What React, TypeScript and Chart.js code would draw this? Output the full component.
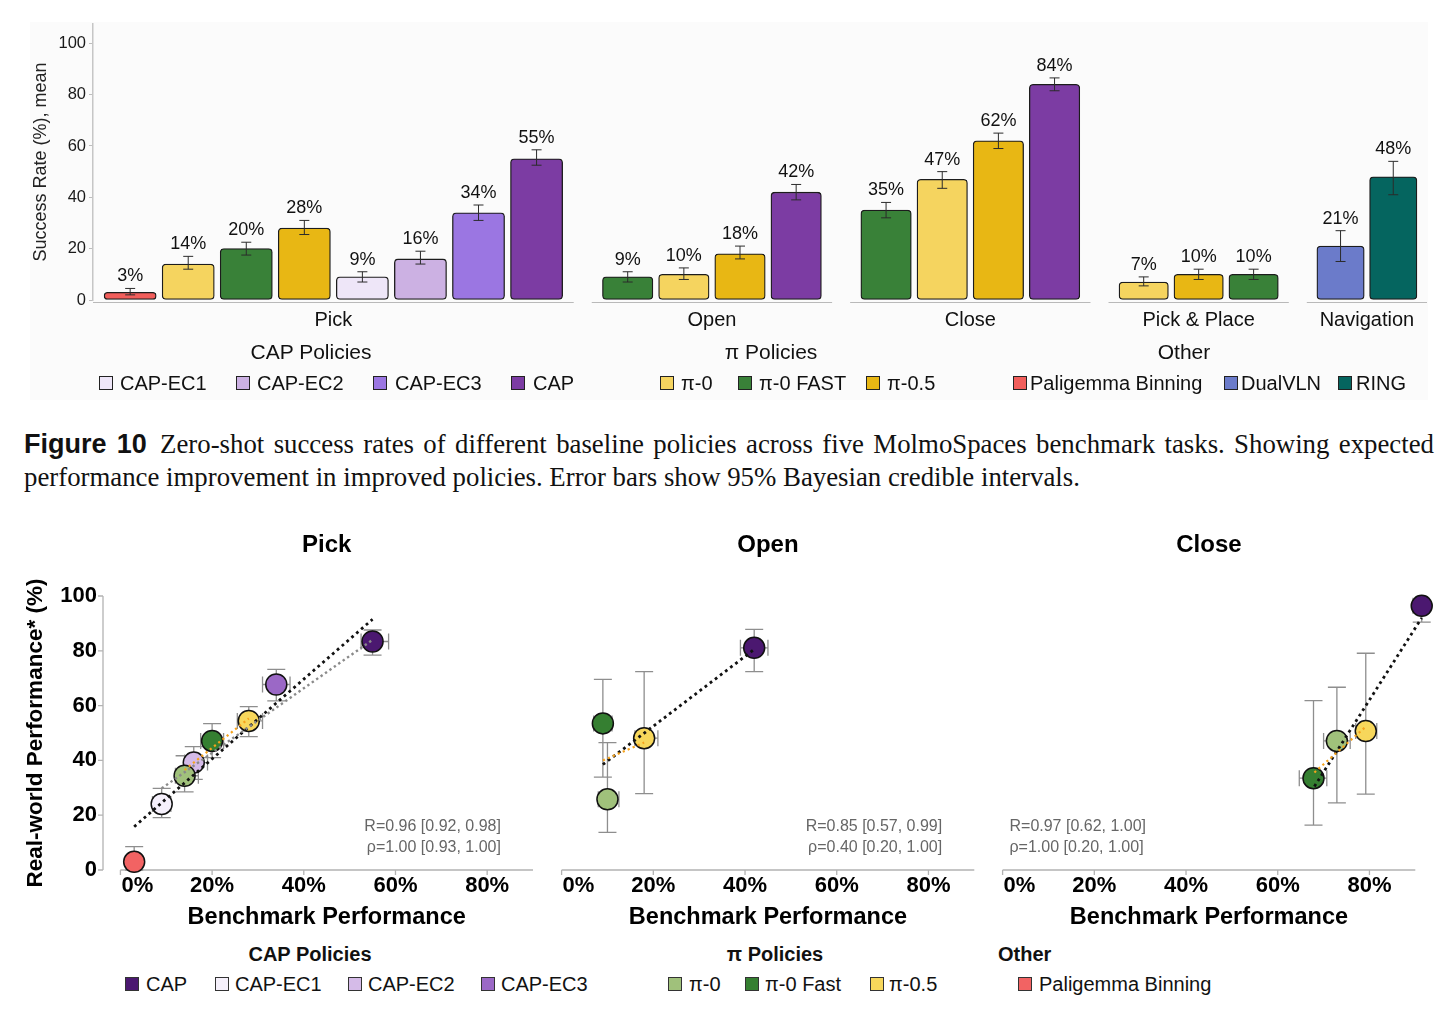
import React, { useEffect, useRef } from "react";
import { Chart, registerables } from "chart.js";

Chart.register(...registerables);

const SANS = "'Liberation Sans', Arial, Helvetica, sans-serif";
const SERIF = "'Liberation Serif', 'Times New Roman', serif";

// ---------- Benchmark success rates (top bar chart) ----------
const tasks = ["Pick", "Open", "Close", "Pick & Place", "Navigation"];

const pickPolicies = ["Paligemma Binning", "π-0", "π-0 FAST", "π-0.5", "CAP-EC1", "CAP-EC2", "CAP-EC3", "CAP"];
const pickRate = [3, 14, 20, 28, 9, 16, 34, 55];
const pickLow = [2, 12, 17.5, 25.5, 7, 14, 31, 52.5];
const pickHigh = [4.5, 17, 22.5, 31, 11, 19, 37, 58.5];

const openPolicies = ["π-0 FAST", "π-0", "π-0.5", "CAP"];
const openRate = [9, 10, 18, 42];
const openLow = [7, 8, 16, 39];
const openHigh = [11, 12.5, 21, 45];

const closePolicies = ["π-0 FAST", "π-0", "π-0.5", "CAP"];
const closeRate = [35, 47, 62, 84];
const closeLow = [32, 43.5, 59, 81.5];
const closeHigh = [38, 50, 65, 86.5];

const placePolicies = ["π-0", "π-0.5", "π-0 FAST"];
const placeRate = [7, 10, 10];
const placeLow = [5.5, 8, 8];
const placeHigh = [9, 12, 12];

const navPolicies = ["DualVLN", "RING"];
const navRate = [21, 48];
const navLow = [15, 41];
const navHigh = [27, 54];

const yTicksTop = [0, 20, 40, 60, 80, 100];

const barColor: Record<string, string> = {
  "Paligemma Binning": "#f15e5b",
  "π-0": "#f5d45f",
  "π-0 FAST": "#398138",
  "π-0.5": "#e8b714",
  "CAP-EC1": "#eee6f8",
  "CAP-EC2": "#ccb1e3",
  "CAP-EC3": "#9b76e2",
  CAP: "#7c3ca3",
  DualVLN: "#6b7bca",
  RING: "#05655f",
};

const barGroups = [
  { policies: pickPolicies, rate: pickRate, low: pickLow, high: pickHigh },
  { policies: openPolicies, rate: openRate, low: openLow, high: openHigh },
  { policies: closePolicies, rate: closeRate, low: closeLow, high: closeHigh },
  { policies: placePolicies, rate: placeRate, low: placeLow, high: placeHigh },
  { policies: navPolicies, rate: navRate, low: navLow, high: navHigh },
];

// top legend
const topLegendTitles = ["CAP Policies", "π Policies", "Other"];
const topLegendLabels = ["CAP-EC1", "CAP-EC2", "CAP-EC3", "CAP", "π-0", "π-0 FAST", "π-0.5", "Paligemma Binning", "DualVLN", "RING"];

// ---------- Real-world vs benchmark (scatter panels) ----------
const pickScatterPolicies = ["CAP", "CAP-EC1", "CAP-EC2", "CAP-EC3", "π-0", "π-0 Fast", "π-0.5", "Paligemma Binning"];
const pickBench = [55, 9, 16, 34, 14, 20, 28, 3];
const pickBenchLow = [52.5, 7, 14, 31, 12, 17.5, 25.5, 2];
const pickBenchHigh = [58.5, 11, 19, 37, 17, 22.5, 31, 4.5];
const pickReal = [83.4, 24.1, 39.2, 67.7, 34.4, 47.1, 54.4, 3];
const pickRealLow = [78.4, 19.1, 33.1, 61.7, 28.5, 41, 48.7, 0];
const pickRealHigh = [87.6, 29.8, 45, 73.2, 41.7, 53.4, 59.6, 8.5];
const pickFitAllX = [3, 55];
const pickFitAllY = [15.8, 91.5];
const pickFitCapX = [9, 55];
const pickFitCapY = [29.8, 84];
const pickFitPiX = [14, 28];
const pickFitPiY = [36.5, 55.3];
const pickStats = ["R=0.96 [0.92, 0.98]", "ρ=1.00 [0.93, 1.00]"];

const openScatterPolicies = ["CAP", "π-0", "π-0 Fast", "π-0.5"];
const openBench = [42, 10, 9, 18];
const openBenchLow = [39, 8, 7, 16];
const openBenchHigh = [45, 12.5, 11, 21];
const openReal = [81.1, 25.8, 53.5, 48.1];
const openRealLow = [72.4, 13.7, 33.9, 27.9];
const openRealHigh = [87.8, 46.5, 69.6, 72.4];
const openFitAllX = [9, 42];
const openFitAllY = [38.5, 80.5];
const openFitPiX = [9, 18];
const openFitPiY = [40, 46.5];
const openStats = ["R=0.85 [0.57, 0.99]", "ρ=0.40 [0.20, 1.00]"];

const closeScatterPolicies = ["CAP", "π-0", "π-0 Fast", "π-0.5"];
const closeBench = [91.4, 72.9, 67.8, 79.2];
const closeBenchLow = [89.5, 70, 64.7, 77];
const closeBenchHigh = [93, 75.8, 70.7, 81.6];
const closeReal = [96.4, 47.1, 33.5, 50.7];
const closeRealLow = [90.5, 24.5, 16.4, 27.7];
const closeRealHigh = [101.5, 66.7, 61.8, 79.1];
const closeFitAllX = [68, 91.4];
const closeFitAllY = [30.5, 92];
const closeFitPiX = [68, 79];
const closeFitPiY = [35.6, 52];
const closeStats = ["R=0.97 [0.62, 1.00]", "ρ=1.00 [0.20, 1.00]"];

const xTicksBottom = [0, 20, 40, 60, 80];
const yTicksBottom = [0, 20, 40, 60, 80, 100];

const pointColor: Record<string, string> = {
  CAP: "#4b1870",
  "CAP-EC1": "#f5f0fb",
  "CAP-EC2": "#d5bbe8",
  "CAP-EC3": "#9b68c6",
  "π-0": "#a0c17b",
  "π-0 Fast": "#357f31",
  "π-0.5": "#f7d75b",
  "Paligemma Binning": "#f26363",
};

const bottomLegendTitles = ["CAP Policies", "π Policies", "Other"];
const bottomLegendLabels = ["CAP", "CAP-EC1", "CAP-EC2", "CAP-EC3", "π-0", "π-0 Fast", "π-0.5", "Paligemma Binning"];

// ---------- layout constants ----------
const SLOT = 60; // horizontal room per bar (px units on the linear x scale)
const GAP = 18; // space between task groups
const CAT_PAD = 0.14; // extra padding inside each group, in bar steps

let cursor = 0;
const groupLayout = barGroups.map((g) => {
  const n = g.rate.length;
  const w = n * SLOT;
  const start = cursor;
  cursor += w + GAP;
  const step = w / (n + 2 * CAT_PAD);
  return {
    start,
    end: start + w,
    step,
    centers: g.rate.map((_, j) => start + step * (CAT_PAD + 0.5 + j)),
  };
});
const X_TOTAL = cursor - GAP;

function BarChart() {
  const ref = useRef<HTMLCanvasElement | null>(null);
  useEffect(() => {
    if (!ref.current) return;
    const decor = {
      id: "barDecor",
      afterDatasetsDraw(chart: any) {
        const { ctx } = chart;
        const x = chart.scales.x;
        const y = chart.scales.y;
        const base = y.getPixelForValue(0);
        ctx.save();
        barGroups.forEach((g, gi) => {
          const lay = groupLayout[gi];
          ctx.strokeStyle = "#b9b9b9";
          ctx.lineWidth = 1.2;
          ctx.beginPath();
          ctx.moveTo(x.getPixelForValue(lay.start), base + 2.5);
          ctx.lineTo(x.getPixelForValue(lay.end), base + 2.5);
          ctx.stroke();
          g.rate.forEach((v, j) => {
            const cx = x.getPixelForValue(lay.centers[j]);
            const yl = y.getPixelForValue(g.low[j]);
            const yh = y.getPixelForValue(g.high[j]);
            ctx.strokeStyle = "#2b2b2b";
            ctx.lineWidth = 1;
            ctx.beginPath();
            ctx.moveTo(cx, yl);
            ctx.lineTo(cx, yh);
            ctx.moveTo(cx - 5, yl);
            ctx.lineTo(cx + 5, yl);
            ctx.moveTo(cx - 5, yh);
            ctx.lineTo(cx + 5, yh);
            ctx.stroke();
            ctx.fillStyle = "#111";
            ctx.font = `18px ${SANS}`;
            ctx.textAlign = "center";
            ctx.textBaseline = "middle";
            ctx.fillText(`${v}%`, cx, yh - 12);
          });
          ctx.fillStyle = "#111";
          ctx.font = `20px ${SANS}`;
          ctx.textAlign = "center";
          ctx.textBaseline = "middle";
          ctx.fillText(tasks[gi], x.getPixelForValue((lay.start + lay.end) / 2), base + 20);
        });
        ctx.restore();
      },
    };
    const chart = new Chart(ref.current, {
      type: "bar",
      data: {
        datasets: barGroups.map((g, gi) => ({
          label: tasks[gi],
          data: g.rate.map((v, j) => ({ x: groupLayout[gi].centers[j], y: v })),
          backgroundColor: g.policies.map((p) => barColor[p]),
          borderColor: "#1c1c1c",
          borderWidth: 1.3,
          borderRadius: 4,
          borderSkipped: false,
          barThickness: groupLayout[gi].step * 0.9,
          grouped: false,
        })) as any,
      },
      options: {
        responsive: false,
        animation: false,
        devicePixelRatio: 1,
        events: [],
        layout: { autoPadding: false, padding: { left: 30, right: 25, top: 24, bottom: 110 } },
        scales: {
          x: { type: "linear", min: 0, max: X_TOTAL, offset: false, display: false },
          y: {
            min: 0,
            max: 107.5,
            afterFit(scale: any) {
              scale.width = 63;
            },
            afterBuildTicks(scale: any) {
              scale.ticks = yTicksTop.map((v) => ({ value: v }));
            },
            ticks: { font: { family: SANS, size: 16.5 }, color: "#1a1a1a", padding: 3 },
            grid: { drawOnChartArea: false, drawTicks: true, tickLength: 4, color: "#bdbdbd" },
            border: { display: true, color: "#c6c6c6", width: 1.5 },
            title: {
              display: true,
              text: "Success Rate (%), mean",
              font: { family: SANS, size: 18 },
              color: "#222",
              padding: { top: 0, bottom: 0 },
            },
          },
        },
        plugins: { legend: { display: false }, tooltip: { enabled: false } },
      } as any,
      plugins: [decor],
    });
    return () => chart.destroy();
  }, []);
  return (
    <canvas
      ref={ref}
      width={1452}
      height={410}
      style={{ position: "absolute", left: 0, top: 0, width: 1452, height: 410 }}
    />
  );
}

type Fit = { xs: number[]; ys: number[]; color: string; width: number; dash: number[] };
type PanelProps = {
  title: string;
  policies: string[];
  bench: number[];
  benchLow: number[];
  benchHigh: number[];
  real: number[];
  realLow: number[];
  realHigh: number[];
  fits: Fit[];
  stats: string[];
  statsX: number;
  statsAlign: "left" | "right";
  yAxis: boolean;
  left: number;
  width: number;
  padLeft: number;
  padRight: number;
  xMin: number;
};

const PANEL_TOP = 520;
const PANEL_H = 420;
const PAD_TOP = 76;
const PAD_BOTTOM = 70;

function ScatterPanel(props: PanelProps) {
  const ref = useRef<HTMLCanvasElement | null>(null);
  useEffect(() => {
    if (!ref.current) return;
    const p = props;
    const decor = {
      id: "scatterDecor",
      beforeDatasetsDraw(chart: any) {
        const { ctx, chartArea } = chart;
        const x = chart.scales.x;
        const y = chart.scales.y;
        const y0 = y.getPixelForValue(0);
        const y100 = y.getPixelForValue(100);
        const xa = x.getPixelForValue(0);
        const xb = x.getPixelForValue(90);
        ctx.save();
        // axes
        ctx.strokeStyle = "#b3b3b3";
        ctx.lineWidth = 1.3;
        ctx.beginPath();
        ctx.moveTo(xa, y0);
        ctx.lineTo(xb, y0);
        xTicksBottom.forEach((t) => {
          const px = x.getPixelForValue(t);
          ctx.moveTo(px, y0);
          ctx.lineTo(px, y0 + 5);
        });
        if (p.yAxis) {
          ctx.moveTo(chartArea.left, y0);
          ctx.lineTo(chartArea.left, y100);
          yTicksBottom.forEach((t) => {
            const py = y.getPixelForValue(t);
            ctx.moveTo(chartArea.left, py);
            ctx.lineTo(chartArea.left - 5, py);
          });
        }
        ctx.stroke();

        ctx.fillStyle = "#000";
        ctx.font = `bold 22px ${SANS}`;
        ctx.textBaseline = "middle";
        xTicksBottom.forEach((t, i) => {
          const px = x.getPixelForValue(t);
          ctx.textAlign = i === 0 ? "left" : "center";
          ctx.fillText(`${t}%`, i === 0 ? px + 1 : px, y0 + 16);
        });
        if (p.yAxis) {
          ctx.textAlign = "right";
          yTicksBottom.forEach((t) => {
            ctx.fillText(String(t), chartArea.left - 6, y.getPixelForValue(t));
          });
          ctx.save();
          ctx.translate(36, (y0 + y100) / 2);
          ctx.rotate(-Math.PI / 2);
          ctx.textAlign = "center";
          ctx.font = `bold 22.5px ${SANS}`;
          ctx.fillText("Real-world Performance* (%)", 0, 0);
          ctx.restore();
        }
        const mid = (xa + xb) / 2;
        ctx.textAlign = "center";
        ctx.font = `bold 24px ${SANS}`;
        ctx.fillText(p.title, mid, 25);
        ctx.font = `bold 23.5px ${SANS}`;
        ctx.fillText("Benchmark Performance", mid, y0 + 48);

        // correlation summary
        ctx.fillStyle = "#666";
        ctx.font = `16px ${SANS}`;
        ctx.textAlign = p.statsAlign;
        const sx = x.getPixelForValue(p.statsX);
        ctx.fillText(p.stats[0], sx, y0 - 43);
        ctx.fillText(p.stats[1], sx, y0 - 22);

        // error bars
        ctx.strokeStyle = "#8e8e8e";
        ctx.lineWidth = 1.3;
        ctx.beginPath();
        p.policies.forEach((_, i) => {
          const cx = x.getPixelForValue(p.bench[i]);
          const cy = y.getPixelForValue(p.real[i]);
          const lo = y.getPixelForValue(p.realLow[i]);
          const hiVal = Math.min(p.realHigh[i], 100);
          const hi = y.getPixelForValue(hiVal);
          ctx.moveTo(cx, lo);
          ctx.lineTo(cx, hi);
          ctx.moveTo(cx - 9, lo);
          ctx.lineTo(cx + 9, lo);
          if (p.realHigh[i] <= 100) {
            ctx.moveTo(cx - 9, hi);
            ctx.lineTo(cx + 9, hi);
          }
          const xl = x.getPixelForValue(p.benchLow[i]);
          const xh = x.getPixelForValue(p.benchHigh[i]);
          ctx.moveTo(xl, cy);
          ctx.lineTo(xh, cy);
          ctx.moveTo(xl, cy - 8);
          ctx.lineTo(xl, cy + 8);
          ctx.moveTo(xh, cy - 8);
          ctx.lineTo(xh, cy + 8);
        });
        ctx.stroke();
        ctx.restore();
      },
    };
    const datasets: any[] = [];
    p.fits.forEach((f) =>
      datasets.push({
        type: "line",
        data: f.xs.map((xv, i) => ({ x: xv, y: f.ys[i] })),
        borderColor: f.color,
        borderWidth: f.width,
        borderDash: f.dash,
        borderCapStyle: "butt",
        pointRadius: 0,
        fill: false,
        tension: 0,
        order: 0,
        clip: false,
      })
    );
    p.policies.forEach((name, i) =>
      datasets.push({
        type: "scatter",
        label: name,
        data: [{ x: p.bench[i], y: p.real[i] }],
        pointRadius: 10.5,
        pointBackgroundColor: pointColor[name],
        pointBorderColor: "#111",
        pointBorderWidth: 1.5,
        order: name.startsWith("CAP") ? 2 : 1,
        clip: false,
      })
    );
    const chart = new Chart(ref.current, {
      type: "scatter",
      data: { datasets },
      options: {
        responsive: false,
        animation: false,
        devicePixelRatio: 1,
        events: [],
        layout: {
          autoPadding: false,
          padding: { left: p.padLeft, right: p.padRight, top: PAD_TOP, bottom: PAD_BOTTOM },
        },
        scales: {
          x: { type: "linear", min: p.xMin, max: 90, display: false },
          y: { type: "linear", min: 0, max: 100, display: false },
        },
        plugins: { legend: { display: false }, tooltip: { enabled: false } },
      } as any,
      plugins: [decor],
    });
    return () => chart.destroy();
  }, []);
  return (
    <canvas
      ref={ref}
      width={props.width}
      height={PANEL_H}
      style={{ position: "absolute", left: props.left, top: PANEL_TOP, width: props.width, height: PANEL_H }}
    />
  );
}

function LegendEntry({ color, label, boxX, textX, y, border }: { color: string; label: string; boxX: number; textX: number; y: number; border: string }) {
  return (
    <>
      <div
        style={{
          position: "absolute",
          left: boxX,
          top: y - 7,
          width: 14,
          height: 14,
          boxSizing: "border-box",
          border: `1.5px solid ${border}`,
          background: color,
        }}
      />
      <div
        style={{
          position: "absolute",
          left: textX,
          top: y - 12,
          height: 24,
          lineHeight: "24px",
          fontFamily: SANS,
          fontSize: 20,
          color: "#111",
          whiteSpace: "nowrap",
        }}
      >
        {label}
      </div>
    </>
  );
}

function LegendTitle({ text, x, y, align, bold, size }: { text: string; x: number; y: number; align: "center" | "left"; bold: boolean; size: number }) {
  return (
    <div
      style={{
        position: "absolute",
        left: align === "center" ? x - 150 : x,
        width: align === "center" ? 300 : undefined,
        top: y - 13,
        lineHeight: "26px",
        textAlign: align,
        fontFamily: SANS,
        fontSize: size,
        fontWeight: bold ? 700 : 400,
        color: "#111",
        whiteSpace: "nowrap",
      }}
    >
      {text}
    </div>
  );
}

// legend placement
const topTitleX = [311, 771, 1184];
const topBoxX = [99, 236, 373, 511, 660, 738, 866, 1013, 1224, 1338];
const topTextX = [120, 257, 395, 533, 681, 759, 887, 1030, 1241, 1356];
const bottomTitleX = [310, 775, 998];
const bottomBoxX = [125, 215, 348, 481, 668, 745, 870, 1018];
const bottomTextX = [146, 235, 368, 501, 689, 765, 889, 1039];

export default function App() {
  return (
    <div
      style={{
        position: "fixed",
        left: 0,
        top: 0,
        width: 1452,
        height: 1020,
        background: "#fff",
        overflow: "hidden",
      }}
    >
      <div style={{ position: "absolute", left: 30, top: 22, width: 1398, height: 378, background: "#fbfbfb" }} />
      <BarChart />
      {topLegendTitles.map((t, i) => (
        <LegendTitle key={t} text={t} x={topTitleX[i]} y={352} align="center" bold={false} size={21} />
      ))}
      {topLegendLabels.map((l, i) => (
        <LegendEntry key={l} color={barColor[l]} label={l} boxX={topBoxX[i]} textX={topTextX[i]} y={383} border="#222" />
      ))}

      <div
        style={{
          position: "absolute",
          left: 24,
          top: 428,
          width: 1410,
          fontFamily: SERIF,
          fontSize: 26.8,
          lineHeight: "33px",
          color: "#111",
        }}
      >
        <div style={{ textAlign: "justify", textAlignLast: "justify", whiteSpace: "nowrap" }}>
          <span style={{ fontFamily: SANS, fontWeight: 700, fontSize: 27, marginRight: 4 }}>Figure 10</span>{" "}
          Zero-shot success rates of different baseline policies across five MolmoSpaces benchmark tasks. Showing expected
        </div>
        <div style={{ whiteSpace: "nowrap" }}>
          performance improvement in improved policies. Error bars show 95% Bayesian credible intervals.
        </div>
      </div>

      <ScatterPanel
        title="Pick"
        policies={pickScatterPolicies}
        bench={pickBench}
        benchLow={pickBenchLow}
        benchHigh={pickBenchHigh}
        real={pickReal}
        realLow={pickRealLow}
        realHigh={pickRealHigh}
        fits={[
          { xs: pickFitCapX, ys: pickFitCapY, color: "#8a8a8a", width: 2.4, dash: [2.4, 3] },
          { xs: pickFitPiX, ys: pickFitPiY, color: "#f5a21c", width: 2.2, dash: [2.2, 3.2] },
          { xs: pickFitAllX, ys: pickFitAllY, color: "#111", width: 2.8, dash: [2.8, 3.6] },
        ]}
        stats={pickStats}
        statsX={83}
        statsAlign="right"
        yAxis={true}
        left={0}
        width={540}
        padLeft={103}
        padRight={7}
        xMin={-3.8}
      />
      <ScatterPanel
        title="Open"
        policies={openScatterPolicies}
        bench={openBench}
        benchLow={openBenchLow}
        benchHigh={openBenchHigh}
        real={openReal}
        realLow={openRealLow}
        realHigh={openRealHigh}
        fits={[
          { xs: openFitPiX, ys: openFitPiY, color: "#f5a21c", width: 2.2, dash: [2.2, 3.2] },
          { xs: openFitAllX, ys: openFitAllY, color: "#111", width: 2.8, dash: [2.8, 3.6] },
        ]}
        stats={openStats}
        statsX={83}
        statsAlign="right"
        yAxis={false}
        left={540}
        width={440}
        padLeft={21.6}
        padRight={5.7}
        xMin={0}
      />
      <ScatterPanel
        title="Close"
        policies={closeScatterPolicies}
        bench={closeBench}
        benchLow={closeBenchLow}
        benchHigh={closeBenchHigh}
        real={closeReal}
        realLow={closeRealLow}
        realHigh={closeRealHigh}
        fits={[
          { xs: closeFitPiX, ys: closeFitPiY, color: "#f5a21c", width: 2.2, dash: [2.2, 3.2] },
          { xs: closeFitAllX, ys: closeFitAllY, color: "#111", width: 2.8, dash: [2.8, 3.6] },
        ]}
        stats={closeStats}
        statsX={1.5}
        statsAlign="left"
        yAxis={false}
        left={980}
        width={472}
        padLeft={22.6}
        padRight={36.7}
        xMin={0}
      />

      {bottomLegendTitles.map((t, i) => (
        <LegendTitle key={t} text={t} x={bottomTitleX[i]} y={954} align={i === 2 ? "left" : "center"} bold={true} size={20} />
      ))}
      {bottomLegendLabels.map((l, i) => (
        <LegendEntry key={l} color={pointColor[l]} label={l} boxX={bottomBoxX[i]} textX={bottomTextX[i]} y={984} border="#333" />
      ))}
    </div>
  );
}
